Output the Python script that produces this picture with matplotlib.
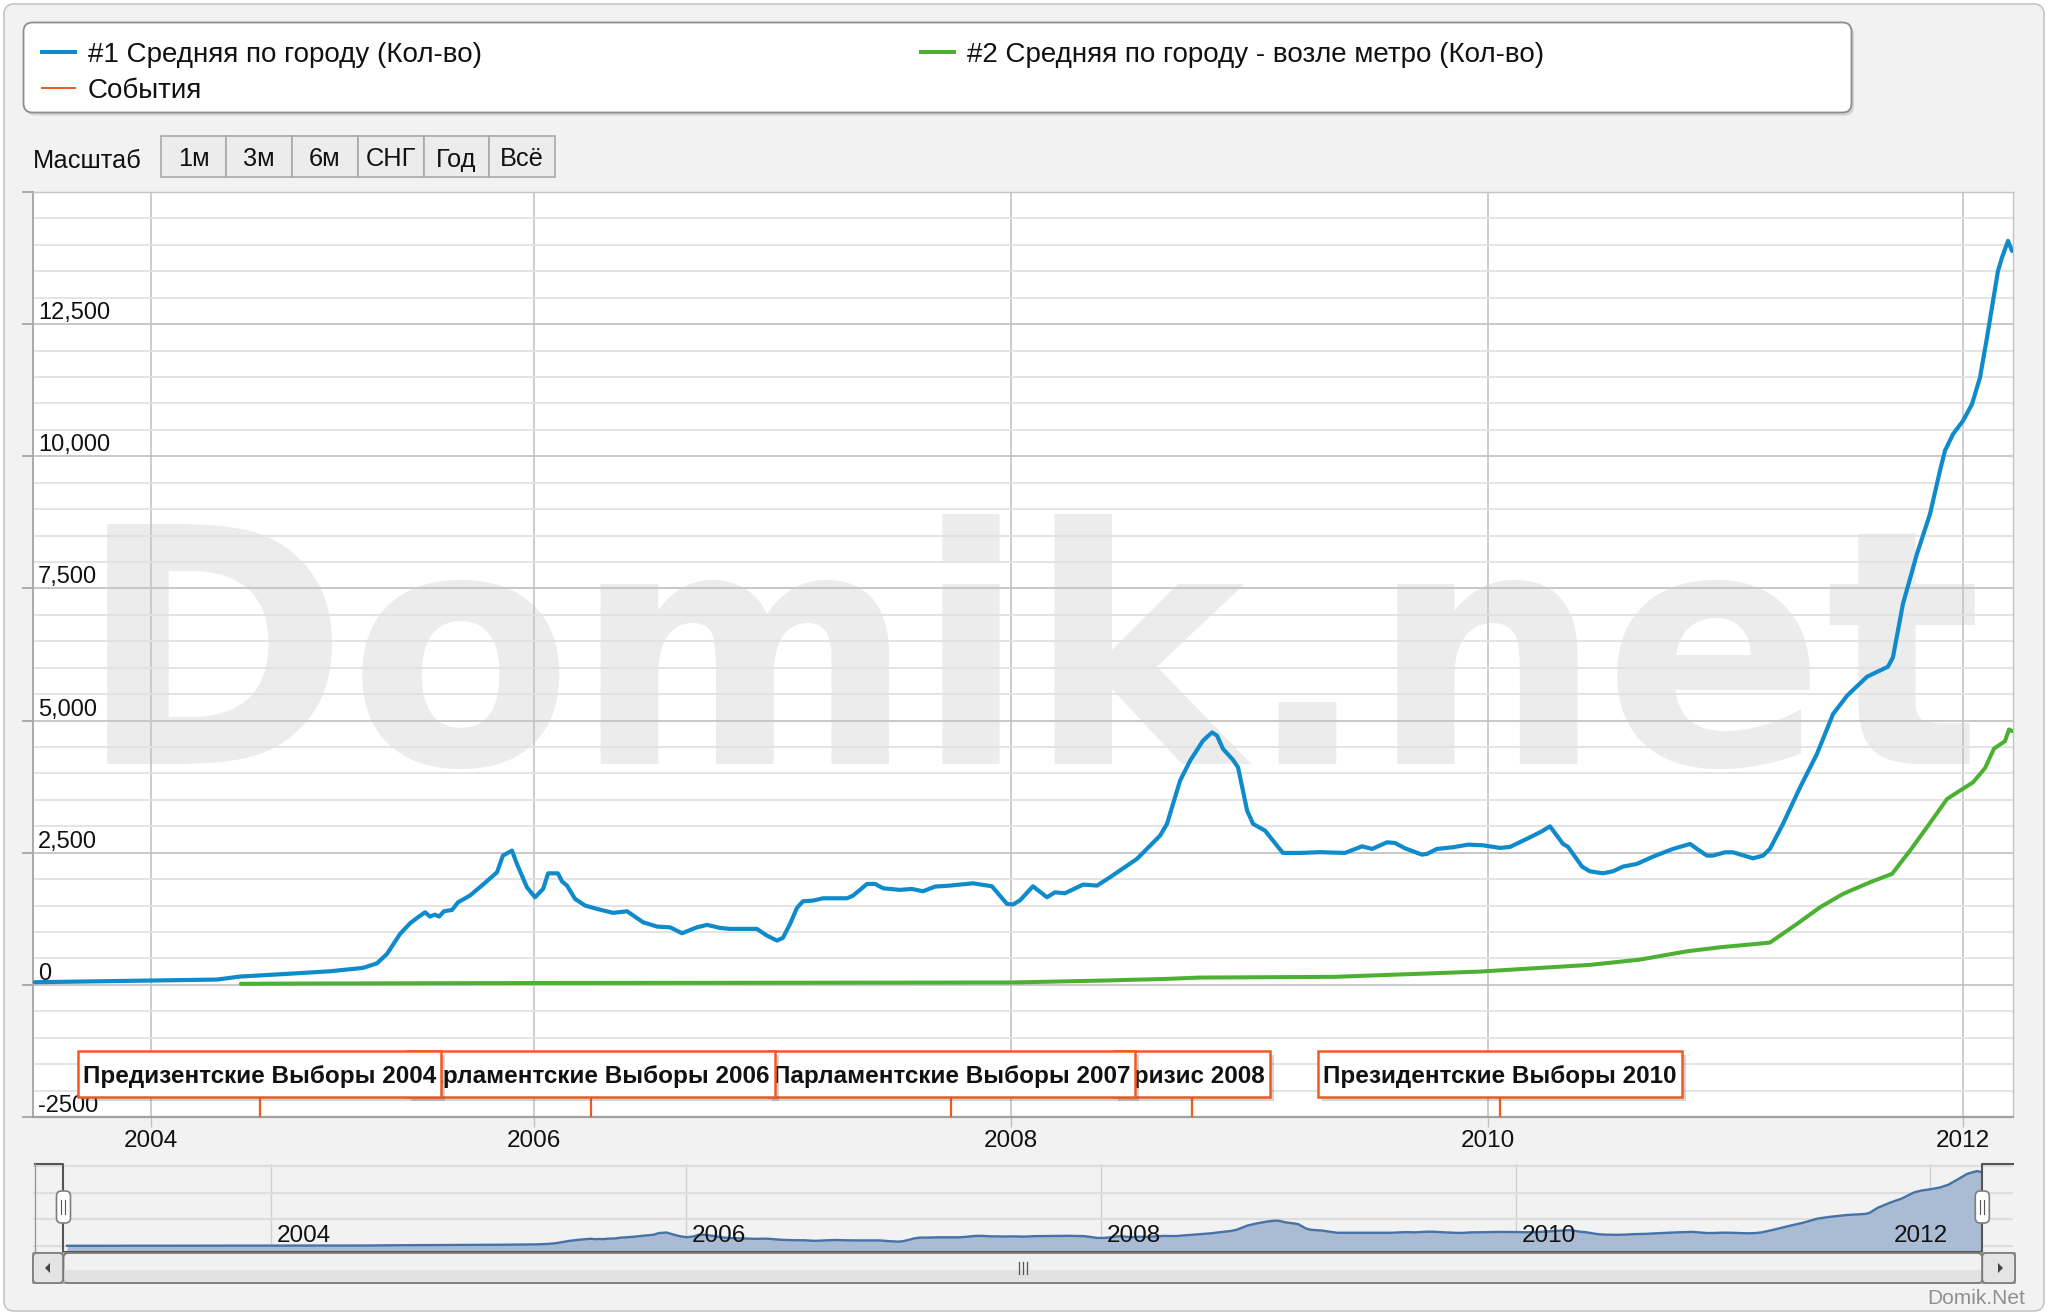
import numpy as np
import matplotlib
matplotlib.use("Agg")
import matplotlib.pyplot as plt
import matplotlib.transforms as mtransforms
from matplotlib.patches import FancyBboxPatch, Rectangle, Polygon
from matplotlib.lines import Line2D
from matplotlib.ticker import MultipleLocator

plt.rcParams['font.family'] = ['Liberation Sans', 'DejaVu Sans']

# ---------------- data ----------------
series_names = ['#1 Средняя по городу (Кол-во)',
                '#2 Средняя по городу - возле метро (Кол-во)',
                'События']
range_buttons = ['1м', '3м', '6м', 'СНГ', 'Год', 'Всё']
range_title = 'Масштаб'
watermark = 'Domik.net'
credit = 'Domik.Net'

s1_x = [2003.017, 2003.5, 2004.0, 2004.25, 2004.456, 2004.614, 2004.936, 2005.142, 2005.281,
        2005.340, 2005.382, 2005.437, 2005.479, 2005.512, 2005.542, 2005.563, 2005.584,
        2005.601, 2005.622, 2005.656, 2005.681, 2005.731, 2005.786, 2005.845, 2005.870,
        2005.908, 2005.929, 2005.971, 2006.005, 2006.039, 2006.060, 2006.101, 2006.118,
        2006.139, 2006.173, 2006.215, 2006.265, 2006.332, 2006.391, 2006.458, 2006.517,
        2006.571, 2006.621, 2006.684, 2006.726, 2006.780, 2006.822, 2006.935, 2006.977,
        2007.019, 2007.044, 2007.074, 2007.103, 2007.128, 2007.170, 2007.212, 2007.313,
        2007.338, 2007.397, 2007.430, 2007.464, 2007.535, 2007.585, 2007.631, 2007.681,
        2007.744, 2007.841, 2007.920, 2007.983, 2008.008, 2008.038, 2008.092, 2008.151,
        2008.184, 2008.226, 2008.302, 2008.361, 2008.415, 2008.528, 2008.625, 2008.654,
        2008.709, 2008.751, 2008.805, 2008.843, 2008.864, 2008.889, 2008.931, 2008.952,
        2008.990, 2009.015, 2009.065, 2009.140, 2009.212, 2009.296, 2009.400, 2009.472,
        2009.514, 2009.577, 2009.610, 2009.652, 2009.723, 2009.744, 2009.786, 2009.853,
        2009.916, 2009.979, 2010.051, 2010.093, 2010.177, 2010.227, 2010.261, 2010.316,
        2010.337, 2010.396, 2010.429, 2010.484, 2010.526, 2010.568, 2010.627, 2010.695,
        2010.779, 2010.851, 2010.880, 2010.922, 2010.947, 2010.998, 2011.032, 2011.116,
        2011.158, 2011.187, 2011.242, 2011.314, 2011.385, 2011.453, 2011.512, 2011.596,
        2011.684, 2011.705, 2011.747, 2011.806, 2011.861, 2011.903, 2011.924, 2011.958,
        2012.000, 2012.045, 2012.085, 2012.120, 2012.150, 2012.175, 2012.195, 2012.225,
        2012.245]
s1_y = [50, 65, 80, 90, 100, 157, 208, 257, 321,
        408, 586, 964, 1165, 1278, 1373, 1292, 1329,
        1292, 1392, 1418, 1562, 1689, 1897, 2129, 2445,
        2540, 2288, 1846, 1657, 1815, 2110, 2110, 1959,
        1878, 1626, 1500, 1437, 1362, 1392, 1184, 1102,
        1089, 976, 1089, 1135, 1078, 1059, 1059, 932,
        838, 889, 1153, 1456, 1581, 1594, 1638, 1638,
        1689, 1910, 1910, 1827, 1797, 1815, 1770, 1859,
        1878, 1921, 1865, 1532, 1519, 1600, 1865, 1657,
        1751, 1733, 1897, 1878, 2035, 2383, 2823, 3045,
        3863, 4241, 4620, 4777, 4714, 4463, 4255, 4115,
        3296, 3045, 2918, 2496, 2496, 2510, 2496, 2621,
        2572, 2697, 2684, 2584, 2464, 2477, 2572, 2603,
        2653, 2640, 2591, 2610, 2792, 2905, 2999, 2666,
        2610, 2237, 2148, 2111, 2148, 2237, 2288, 2426,
        2572, 2666, 2572, 2445, 2445, 2508, 2508, 2394,
        2445, 2572, 3045, 3737, 4368, 5125, 5471, 5830,
        6019, 6195, 7205, 8151, 8907, 9726, 10104, 10420,
        10671, 10987, 11490, 12247, 12941, 13508, 13760, 14075,
        13886]

s2_x = [2004.62, 2005.016, 2006.0, 2008.0, 2008.373, 2008.654, 2008.792, 2009.350, 2009.769,
        2009.966, 2010.219, 2010.429, 2010.640, 2010.838, 2010.977, 2011.158, 2011.187,
        2011.301, 2011.398, 2011.495, 2011.608, 2011.701, 2011.777, 2011.848, 2011.933,
        2011.987, 2012.05, 2012.11, 2012.155, 2012.21, 2012.23, 2012.245]
s2_y = [20, 25, 35, 45, 80, 113, 138, 151, 219,
        251, 321, 378, 478, 635, 711, 787, 800,
        1153, 1468, 1721, 1940, 2099, 2540, 2980, 3517,
        3674, 3831, 4100, 4470, 4610, 4833, 4800]

event_x = [2004.75, 2006.24, 2007.75, 2008.76, 2010.05]
event_labels = ['Предизентские Выборы 2004', 'Парламентские Выборы 2006',
                'Парламентские Выборы 2007', 'Кризис 2008', 'Президентские Выборы 2010']

year_ticks = [2004, 2006, 2008, 2010, 2012]
year_labels = ['2004', '2006', '2008', '2010', '2012']
y_ticks = [-2500, 0, 2500, 5000, 7500, 10000, 12500, 15000]
y_labels = ['-2500', '0', '2,500', '5,000', '7,500', '10,000', '12,500', '']
nav_y_ticks = [0, 5000, 10000, 15000]

# ---------------- style ----------------
W, H = 2048, 1315
BLUE = '#0f8bcb'
GREEN = '#4cb133'
ORANGE = '#f05a22'
BG = '#f2f2f2'
T = mtransforms.IdentityTransform()


def Y(y):
    return H - y


fig = plt.figure(figsize=(W / 100, H / 100), dpi=100, facecolor='white')

# outer panel
fig.add_artist(FancyBboxPatch((4, Y(1311)), 2040, 1307, boxstyle='round,pad=0,rounding_size=10',
                              fc=BG, ec='#c6c6c6', lw=1.2, transform=T, zorder=0))

# legend box
fig.add_artist(FancyBboxPatch((26, Y(115.5)), 1828, 90, boxstyle='round,pad=0,rounding_size=9',
                              fc='#bdbdbd', ec='none', alpha=0.6, transform=T, zorder=1))
fig.add_artist(FancyBboxPatch((23.5, Y(112.5)), 1828, 90, boxstyle='round,pad=0,rounding_size=9',
                              fc='white', ec='#8e8e8e', lw=1.3, transform=T, zorder=2))
leg_items = [(41.5, 52, BLUE, 2.9, series_names[0]),
             (921, 52, GREEN, 2.9, series_names[1]),
             (41.5, 88, ORANGE, 1.4, series_names[2])]
for lx, ly, c, lw, name in leg_items:
    fig.add_artist(Line2D([lx, lx + 33], [Y(ly), Y(ly)], color=c, lw=lw, transform=T, zorder=3))
    fig.text(lx + 46, Y(ly), name, transform=T, fontsize=20, va='center_baseline',
             ha='left', color='#111111', zorder=3)

# range selector
fig.text(33, Y(168.5), range_title, transform=T, fontsize=18.3, ha='left', va='baseline', color='#111111')
for i, lab in enumerate(range_buttons):
    x0 = 160.7 + 65.7 * i
    fig.add_artist(Rectangle((x0, Y(176.5)), 65.7, 40.5, fc='#ececec', ec='#a9a9a9', lw=1.2,
                             transform=T, zorder=2))
    fig.text(x0 + 32.85, Y(157), lab, transform=T, fontsize=18.3, ha='center',
             va='center_baseline', color='#111111', zorder=3)

# ---------------- main axes ----------------
YEAR_K = [1990.0, 2003.0, 2004.0, 2005.0, 2006.0, 2008.0, 2010.0, 2012.0, 2012.25, 2030.0]
PX_K = [33 - 13 * 117.5, 33, 150.5, 296.3, 533.8, 1011, 1488, 1963, 2013, 2013 + 17.75 * 200]


def fwd(x):
    return np.interp(x, YEAR_K, PX_K)


def inv(p):
    return np.interp(p, PX_K, YEAR_K)


ax = fig.add_axes([33 / W, 1 - 1117 / H, 1980 / W, 925 / H])
ax.set_facecolor('white')
ax.set_xscale('function', functions=(fwd, inv))
ax.set_xlim(2003.0, 2012.25)
ax.set_ylim(-2500, 15000)
ax.set_axisbelow(True)

ax.set_yticks(y_ticks)
ax.yaxis.set_minor_locator(MultipleLocator(500))
ax.tick_params(axis='y', which='major', length=8, width=1.2, color='#a0a0a0', labelleft=False)
ax.tick_params(axis='y', which='minor', length=0)
ax.grid(axis='y', which='major', color='#c4c4c4', lw=1.3)
ax.grid(axis='y', which='minor', color='#e2e2e2', lw=1.3)

ax.set_xticks(year_ticks, labels=year_labels)
ax.xaxis.set_minor_locator(plt.NullLocator())
ax.tick_params(axis='x', which='major', length=7, width=1.0, color='#c0c0c0', labelsize=17.5,
               pad=2.5, labelcolor='#111111')
ax.grid(axis='x', which='major', color='#c8c8c8', lw=1.3)

for side in ['top', 'right']:
    ax.spines[side].set_color('#c4c4c4')
    ax.spines[side].set_linewidth(1.0)
ax.spines['left'].set_color('#a8a8a8')
ax.spines['left'].set_linewidth(1.4)
ax.spines['bottom'].set_color('#a0a0a0')
ax.spines['bottom'].set_linewidth(1.6)

ytrans = mtransforms.blended_transform_factory(ax.transAxes, ax.transData)
ylab_trans = mtransforms.offset_copy(ytrans, fig=fig, x=5, y=5, units='dots')
for v, lab in zip(y_ticks, y_labels):
    if lab:
        ax.text(0, v, lab, transform=ylab_trans, fontsize=17, ha='left', va='baseline',
                color='#111111', zorder=5)

# watermark (sits behind the grid, like the reference)
ax.text(1030, Y(764), watermark, transform=T, fontsize=236, fontweight='bold',
        family=['DejaVu Sans'], color='#ececec', ha='center', va='baseline', zorder=0.1)

# series
ax.plot(s2_x, s2_y, color=GREEN, lw=2.9, solid_joinstyle='round', solid_capstyle='round', zorder=3)
ax.plot(s1_x, s1_y, color=BLUE, lw=3.0, solid_joinstyle='round', solid_capstyle='round', zorder=4)

# event flags
xtrans = mtransforms.blended_transform_factory(ax.transData, ax.transAxes)
stem_top = (1117 - 1096.5) / 925
text_base = (1117 - 1083.3) / 925
n = len(event_x)
flag_texts = []
for i, (ex, lab) in enumerate(zip(event_x, event_labels)):
    z = 10 + 3 * (n - i)
    ax.plot([ex, ex], [0, stem_top], transform=xtrans, color=ORANGE, lw=1.6, zorder=6,
            solid_capstyle='butt')
    t = ax.text(ex, text_base, lab, transform=xtrans, fontsize=17.5, fontweight='bold', ha='center',
                va='baseline', color='#111111', zorder=z + 2)
    flag_texts.append((t, ex, z))

fig.canvas.draw()
renderer = fig.canvas.get_renderer()
for t, ex, z in flag_texts:
    bb = t.get_window_extent(renderer)
    cx = ax.transData.transform((ex, 0))[0]
    wbox = bb.width + 10
    ax.add_patch(Rectangle((cx - wbox / 2 + 4, Y(1096.5) - 4), wbox, 46, fc='#555555', ec='none',
                           alpha=0.25, transform=T, zorder=z))
    ax.add_patch(Rectangle((cx - wbox / 2, Y(1096.5)), wbox, 46, fc='white', ec=ORANGE, lw=1.8,
                           transform=T, zorder=z + 1))

# ---------------- navigator ----------------
nav = fig.add_axes([33 / W, 1 - 1253 / H, 1980 / W, 89 / H])
nav.set_facecolor('none')
nav.set_xlim(2002.853, 2012.398)
NAV_YMIN = -1300
nav.set_ylim(NAV_YMIN, 15400)
nav.fill_between(s1_x, s1_y, NAV_YMIN, color='#aabcd4', lw=0, zorder=2)
nav.plot(s1_x, s1_y, color='#4572a7', lw=1.7, zorder=3)
nav.set_yticks(nav_y_ticks)
nav.set_xticks(year_ticks)
nav.grid(axis='y', color='#dedede', lw=1.6, zorder=0)
nav.grid(axis='x', color='#cfcfcf', lw=1.0, zorder=0)
nav.tick_params(length=0, labelleft=False, labelbottom=False)
for s in nav.spines.values():
    s.set_visible(False)

sel0, sel1 = ax.get_xlim()
p0 = nav.transData.transform((sel0, 0))[0]
p1 = nav.transData.transform((sel1, 0))[0]

ntrans = mtransforms.offset_copy(mtransforms.blended_transform_factory(nav.transData, nav.transAxes),
                                 fig=fig, x=6, y=0, units='dots')
nav_labels = []
for yr, lab in zip(year_ticks, year_labels):
    nav_labels.append(nav.text(yr, (1253 - 1241.5) / 89, lab, transform=ntrans, fontsize=17.5,
                               ha='left', va='baseline', color='#111111', zorder=4))
fig.canvas.draw()
for tl in nav_labels:
    bb = tl.get_window_extent(fig.canvas.get_renderer())
    limit = p1 - 34
    if bb.x1 > limit:
        tl.set_transform(mtransforms.offset_copy(tl.get_transform(), fig=fig,
                                                 x=limit - bb.x1, y=0, units='dots'))

fig.add_artist(Line2D([35, p0, p0, p1, p1, 2013], [Y(1164), Y(1164), Y(1252), Y(1252), Y(1164), Y(1164)],
                      color='#555555', lw=1.5, transform=T, zorder=5))
fig.add_artist(Line2D([35, 35], [Y(1164), Y(1252)], color='#999999', lw=1.0, transform=T, zorder=5))

# scrollbar
fig.add_artist(Rectangle((33, Y(1283)), 1982, 30, fc='#eaeaea', ec='#9a9a9a', lw=1.2, transform=T, zorder=5))
fig.add_artist(FancyBboxPatch((p0, Y(1283)), p1 - p0, 30, boxstyle='round,pad=0,rounding_size=5',
                              fc='#f1f1f1', ec='#7a7a7a', lw=1.3, transform=T, zorder=6))
fig.add_artist(Rectangle((p0 + 1, Y(1283) + 1), p1 - p0 - 2, 12, fc='#dcdcdc', ec='none', alpha=0.7,
                         transform=T, zorder=6))
for bx0, bx1 in [(33, 63), (p1, 2015)]:
    fig.add_artist(FancyBboxPatch((bx0, Y(1283)), bx1 - bx0, 30, boxstyle='round,pad=0,rounding_size=4',
                                  fc='#e4e4e4', ec='#7a7a7a', lw=1.2, transform=T, zorder=7))
fig.add_artist(Polygon([(45, Y(1268)), (50, Y(1263)), (50, Y(1273))], closed=True, fc='#444444',
                       ec='none', transform=T, zorder=8))
fig.add_artist(Polygon([(2003, Y(1268)), (1998, Y(1263)), (1998, Y(1273))], closed=True, fc='#444444',
                       ec='none', transform=T, zorder=8))
gx = (p0 + p1) / 2
for dx in (-4, 0, 4):
    fig.add_artist(Line2D([gx + dx, gx + dx], [Y(1262), Y(1274)], color='#555555', lw=0.9,
                          transform=T, zorder=8))

# handles
for px in (p0, p1):
    fig.add_artist(FancyBboxPatch((px - 7, Y(1223)), 14, 32, boxstyle='round,pad=0,rounding_size=5',
                                  fc='white', ec='#7f7f7f', lw=1.2, transform=T, zorder=9))
    for dx in (-2, 2):
        fig.add_artist(Line2D([px + dx, px + dx], [Y(1200), Y(1214)], color='#555555', lw=0.8,
                              transform=T, zorder=10))

# credit
fig.text(2025, Y(1304), credit, transform=T, fontsize=15, ha='right', va='baseline', color='#909090')

fig.savefig('out.png', dpi=100, facecolor='white')
